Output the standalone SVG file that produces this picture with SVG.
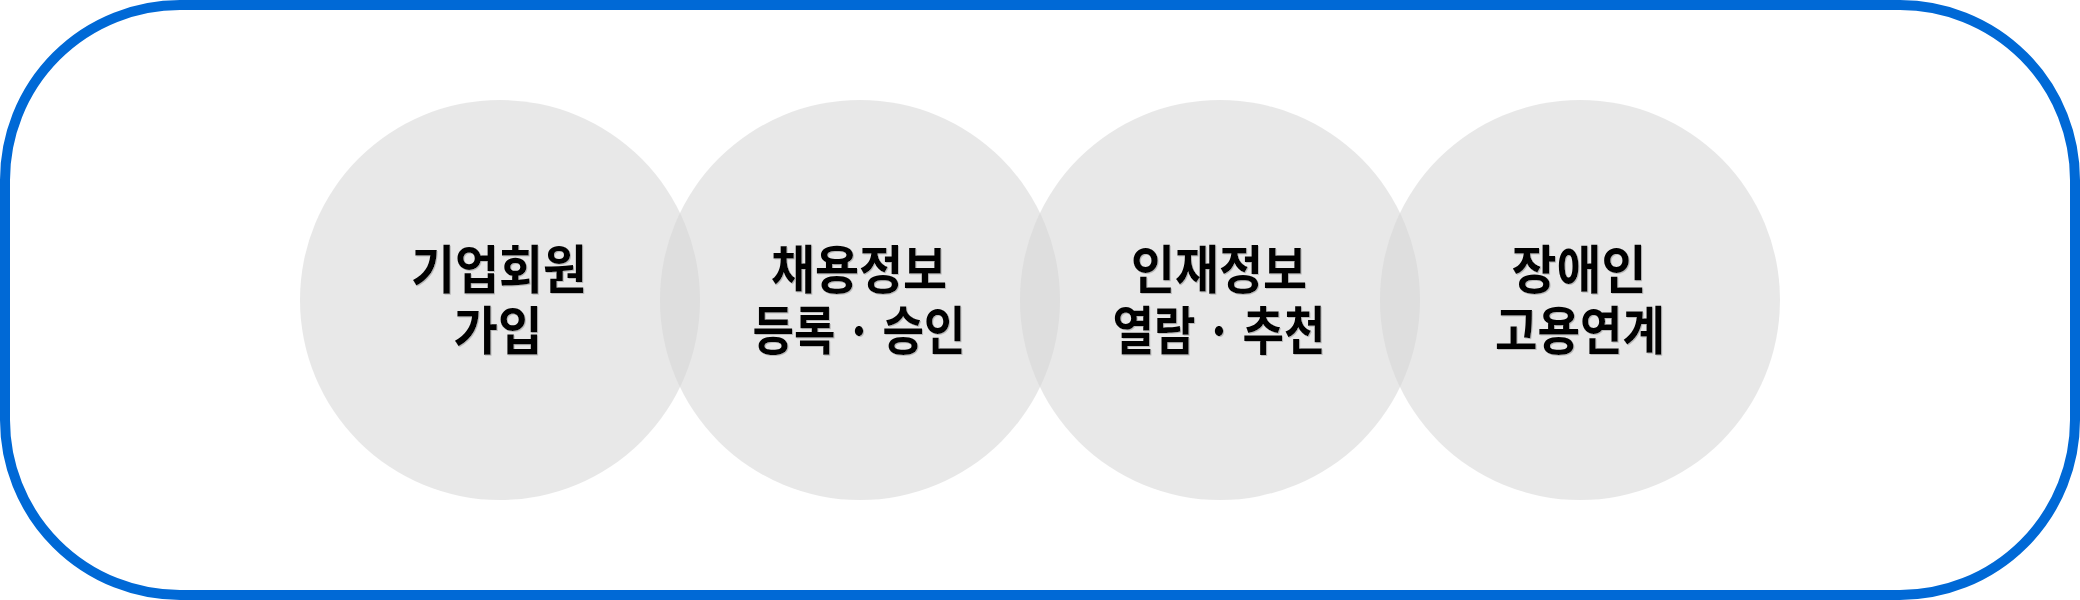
<svg xmlns="http://www.w3.org/2000/svg" width="2080" height="600" viewBox="0 0 2080 600">
  <defs>
    <style>
      .frame { fill: #ffffff; stroke: #0069d6; stroke-width: 10; }
      .bubble { fill: #d6d6d6; fill-opacity: 0.565; }
      .label { font-family: "Noto Sans CJK KR", "Noto Sans", sans-serif; font-weight: 700; font-size: 52px; fill: #000000; text-anchor: middle; }
    </style>
    <filter id="shadow" x="-10%" y="-10%" width="120%" height="120%">
      <feDropShadow dx="1" dy="1" stdDeviation="0" flood-color="#999999" flood-opacity="0.6"/>
    </filter>
  </defs>
  <rect id="frame" class="frame" x="5" y="5" width="2070" height="590" rx="175" ry="175"/>
  <g id="node-1">
    <circle class="bubble" cx="500" cy="300" r="200"/>
    <text class="label" filter="url(#shadow)"><tspan x="499" y="289" textLength="176" lengthAdjust="spacingAndGlyphs">기업회원</tspan><tspan x="498" y="350" textLength="89" lengthAdjust="spacingAndGlyphs">가입</tspan></text>
  </g>
  <g id="node-2">
    <circle class="bubble" cx="860" cy="300" r="200"/>
    <text class="label" filter="url(#shadow)"><tspan x="859" y="289" textLength="176" lengthAdjust="spacingAndGlyphs">채용정보</tspan><tspan x="859" y="350" textLength="213" lengthAdjust="spacingAndGlyphs">등록 · 승인</tspan></text>
  </g>
  <g id="node-3">
    <circle class="bubble" cx="1220" cy="300" r="200"/>
    <text class="label" filter="url(#shadow)"><tspan x="1219" y="289" textLength="176" lengthAdjust="spacingAndGlyphs">인재정보</tspan><tspan x="1219" y="350" textLength="213" lengthAdjust="spacingAndGlyphs">열람 · 추천</tspan></text>
  </g>
  <g id="node-4">
    <circle class="bubble" cx="1580" cy="300" r="200"/>
    <text class="label" filter="url(#shadow)"><tspan x="1579" y="289" textLength="135" lengthAdjust="spacingAndGlyphs">장애인</tspan><tspan x="1580" y="350" textLength="170" lengthAdjust="spacingAndGlyphs">고용연계</tspan></text>
  </g>
  <g id="connectors"></g>
</svg>
